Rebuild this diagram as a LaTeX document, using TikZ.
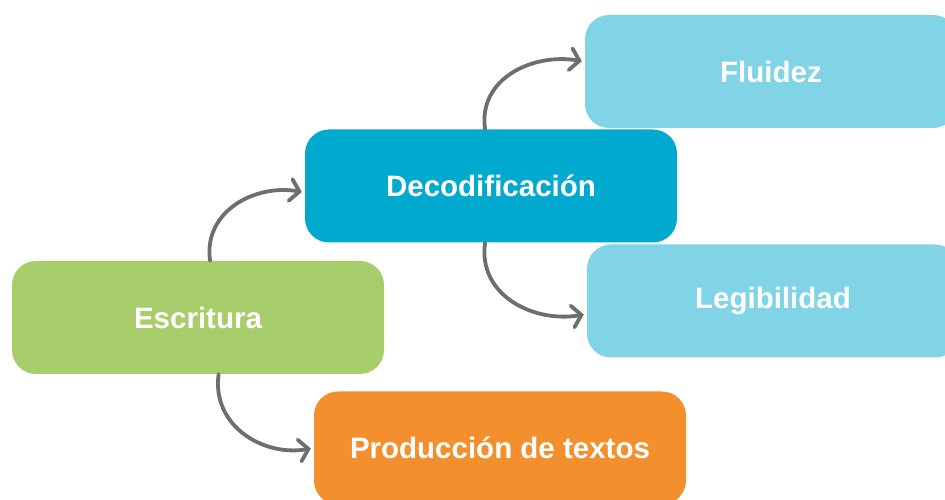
\documentclass[tikz,border=0pt]{standalone}
\usepackage{fontspec}
\setmainfont{Liberation Sans}
\usetikzlibrary{arrows.meta}
\definecolor{celeste}{HTML}{80D4E6}
\definecolor{azul}{HTML}{00A9CE}
\definecolor{verde}{HTML}{A8CD6B}
\definecolor{naranja}{HTML}{F48F2D}
\definecolor{gris}{HTML}{6D6E70}
\begin{document}
\begin{tikzpicture}[x=1pt,y=1pt,
    caja/.style={rounded corners=24pt, minimum width=372pt, minimum height=113pt, text=white, font=\fontsize{29.5}{32}\selectfont\bfseries},
    flecha/.style={draw=gris, line width=3.8pt, line cap=round, shorten >=3pt, looseness=1.1, -{Straight Barb[length=9pt,width=22pt,line cap=round]}}]
\useasboundingbox (0,0) rectangle (945,500);
\node [caja, fill=celeste] (flu) at (771,428.5) {Fluidez};
\node [caja, fill=azul] (dec) at (491,314) {Decodificación};
\node [caja, fill=celeste] (leg) at (773,199) {Legibilidad};
\node [caja, fill=verde] (esc) at (198,182.5) {Escritura};
\node [caja, fill=naranja] (prod) at (500,52) {Producción de textos};
\draw [flecha] (esc.78) to [out=98,in=170] (dec.182);
\draw [flecha] (dec.96) to [out=98,in=170] (flu.177);
\draw [flecha] (dec.264) to [out=262,in=190] (leg.184);
\draw [flecha] (esc.290) to [out=262,in=190] (prod.180);
\end{tikzpicture}
\end{document}
